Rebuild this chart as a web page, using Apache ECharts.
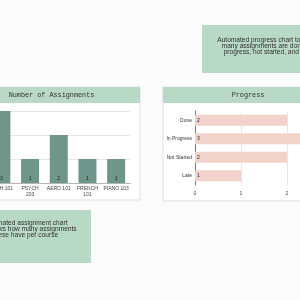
<!DOCTYPE html>
<html>
<head>
<meta charset="utf-8">
<script src="https://cdn.jsdelivr.net/npm/echarts@6/dist/echarts.min.js"></script>
<style>
  html, body { margin: 0; padding: 0; background: #fbfbfb; overflow: hidden; }
  /* the dashboard is wider than the window: shift it left so both panels are cut off */
  #chart { position: absolute; left: -40px; top: 0; width: 380px; height: 300px; }
</style>
</head>
<body>
<div id="chart"></div>
<script>
// assignments per course
const courses = ['MATH 101', 'PSYCH\n203', 'AERO 101', 'FRENCH\n101', 'PIANO 103'];
const assignmentCounts = [3, 1, 2, 1, 1];
// progress per status
const statuses = ['Done', 'In Progress', 'Not Started', 'Late'];
const statusCounts = [2, 3, 2, 1];
// value axis range (ticks 0,1,2,3)
const countMin = 0;
const countMax = 3;
const countStep = 1;

const green = '#b8d9c6';
const labelFont = 'Liberation Sans';
const dx = 40; // offset of the canvas against the window

let chart = echarts.init(document.getElementById('chart'), null, { renderer: 'canvas' });

let option = {
    animation: false,
    backgroundColor: '#fbfbfb',
    grid: [
        { left: 27, right: 209.5, top: 111, bottom: 117 },
        { left: 235, right: 7, top: 111, bottom: 115 }
    ],
    xAxis: [
        {
            type: 'category',
            gridIndex: 0,
            data: courses,
            axisTick: { show: false },
            axisLine: { lineStyle: { color: '#b5b5b5' } },
            axisLabel: {
                interval: 0,
                fontFamily: labelFont,
                fontSize: 5,
                lineHeight: 6,
                color: '#444',
                margin: 3
            }
        },
        {
            type: 'value',
            gridIndex: 1,
            min: countMin,
            max: countMax,
            interval: countStep,
            axisLine: { show: false },
            axisTick: { show: false },
            splitLine: { lineStyle: { color: '#e6e6e6' } },
            axisLabel: {
                fontFamily: labelFont,
                fontSize: 5,
                color: '#444',
                margin: 6
            }
        }
    ],
    yAxis: [
        {
            type: 'value',
            gridIndex: 0,
            min: countMin,
            max: countMax,
            interval: countStep,
            axisLine: { show: false },
            axisTick: { show: false },
            axisLabel: { show: false },
            splitLine: { lineStyle: { color: '#e6e6e6' } }
        },
        {
            type: 'category',
            gridIndex: 1,
            inverse: true,
            data: statuses,
            axisTick: { show: false },
            axisLine: { lineStyle: { color: '#777' } },
            axisLabel: {
                fontFamily: labelFont,
                fontSize: 5,
                color: '#333',
                margin: 3
            }
        }
    ],
    series: [
        {
            type: 'bar',
            xAxisIndex: 0,
            yAxisIndex: 0,
            data: assignmentCounts,
            barWidth: 18,
            itemStyle: { color: '#6f968a' },
            label: {
                show: true,
                position: 'insideBottom',
                distance: 1.5,
                fontFamily: labelFont,
                fontSize: 5,
                color: '#222'
            }
        },
        {
            type: 'bar',
            xAxisIndex: 1,
            yAxisIndex: 1,
            data: statusCounts,
            barWidth: 11,
            itemStyle: { color: '#f1d3cb' },
            label: {
                show: true,
                position: 'insideLeft',
                distance: 2,
                fontFamily: labelFont,
                fontSize: 5,
                color: '#222'
            }
        }
    ],
    graphic: [
        // panels
        { type: 'rect', z: -10, shape: { x: -37 + dx, y: 87, width: 177, height: 113 },
          style: { fill: '#fff', stroke: '#e0e0e0', lineWidth: 1 } },
        { type: 'rect', z: -10, shape: { x: 163 + dx, y: 87, width: 170, height: 114 },
          style: { fill: '#fff', stroke: '#e0e0e0', lineWidth: 1 } },
        { type: 'rect', z: -9, shape: { x: -37 + dx, y: 87, width: 177, height: 16 },
          style: { fill: green } },
        { type: 'rect', z: -9, shape: { x: 163 + dx, y: 87, width: 170, height: 16 },
          style: { fill: green } },
        { type: 'text', z: 5, style: { text: 'Number of Assignments', x: 51.5 + dx, y: 95.5,
          textAlign: 'center', textVerticalAlign: 'middle',
          font: '6.8px "Liberation Mono"', fill: '#333' } },
        { type: 'text', z: 5, style: { text: 'Progress', x: 248 + dx, y: 95.5,
          textAlign: 'center', textVerticalAlign: 'middle',
          font: '6.8px "Liberation Mono"', fill: '#333' } },
        // note boxes
        { type: 'rect', z: -10, shape: { x: 202 + dx, y: 25, width: 131, height: 48 },
          style: { fill: green } },
        { type: 'text', z: 5, style: {
            text: 'Automated progress chart to show\nmany assignments are done, in\nprogress, not started, and late',
            x: 267.5 + dx, y: 46, textAlign: 'center', textVerticalAlign: 'middle',
            lineHeight: 5.8, font: '6.6px "Liberation Sans"', fill: '#333' } },
        { type: 'rect', z: -10, shape: { x: -40 + dx, y: 210, width: 131, height: 53 },
          style: { fill: green } },
        { type: 'text', z: 5, style: {
            text: 'Automated assignment chart\nthat shows how many assignments\nthese have per course',
            x: 25.5 + dx, y: 229, textAlign: 'center', textVerticalAlign: 'middle',
            lineHeight: 5.8, font: '6.6px "Liberation Sans"', fill: '#333' } }
    ]
};

chart.setOption(option);
</script>
</body>
</html>
